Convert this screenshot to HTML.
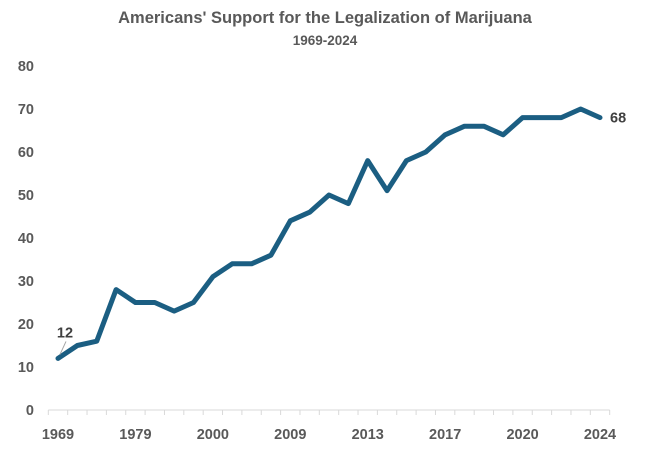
<!DOCTYPE html>
<html><head><meta charset="utf-8"><style>
body{margin:0;background:#fff;}
svg{display:block;font-family:"Liberation Sans",sans-serif;}
</style></head><body>
<svg id="chart" width="650" height="457">
<text x="325" y="23" text-anchor="middle" font-size="16.5" font-weight="bold" fill="#595959">Americans' Support for the Legalization of Marijuana</text>
<text x="325" y="45" text-anchor="middle" font-size="13.5" font-weight="bold" fill="#595959">1969-2024</text>
<g id="yaxis"></g>
<g id="xaxis"></g>
<g id="plot"></g>
</svg>
<script>
const categories=["1969","1972","1973","1977","1979","1980","1985","1995","2000","2001","2003","2005","2009","2010","2011","2012","2013","2014","2015","2016","2017","2018","2018b","2019","2020","2021","2022","2023","2024"];
const tickLabels=["1969","1979","2000","2009","2013","2017","2020","2024"];
const supportValues=[12,15,16,28,25,25,23,25,31,34,34,36,44,46,50,48,58,51,58,60,64,66,66,64,68,68,68,70,68];
const yTicks=[0,10,20,30,40,50,60,70,80];
const NS="http://www.w3.org/2000/svg";
const x0=58,x1=600,yb=410,yt=66;
function xs(i){return x0+(x1-x0)*i/(categories.length-1);}
function ys(v){return yb-(yb-yt)*v/80;}
function mk(tag,attrs,parent){const e=document.createElementNS(NS,tag);for(const k in attrs)e.setAttribute(k,attrs[k]);parent.appendChild(e);return e;}
const ya=document.getElementById('yaxis'),xa=document.getElementById('xaxis'),pl=document.getElementById('plot');
yTicks.forEach(v=>{const t=mk('text',{x:34,y:ys(v)+5,'text-anchor':'end','font-size':14.5,'font-weight':'bold',fill:'#595959'},ya);t.textContent=v;

});
const step=(x1-x0)/(categories.length-1);
const ax=mk('line',{x1:x0-step/2,x2:x1+step/2,y1:yb,y2:yb,stroke:'#d9d9d9','stroke-width':1},xa);


for(let i=0;i<=categories.length;i++){const x=x0-step/2+i*step;const tk=mk('line',{x1:x,x2:x,y1:yb,y2:yb+5,stroke:'#d9d9d9','stroke-width':1},xa);

}
tickLabels.forEach((lab,j)=>{const i=j*4;const t=mk('text',{x:xs(i),y:439,'text-anchor':'middle','font-size':14.5,'font-weight':'bold',fill:'#595959'},xa);t.textContent=lab;

});
const d=supportValues.map((v,i)=>(i?'L':'M')+xs(i)+','+ys(v)).join(' ');
const p=mk('path',{d:d,fill:'none',stroke:'#1b5e82','stroke-width':5,'stroke-linejoin':'round','stroke-linecap':'round'},pl);


const n=supportValues.length-1;
const l1=mk('line',{x1:xs(0)+2,y1:ys(supportValues[0])-4,x2:xs(0)+8,y2:ys(supportValues[0])-17,stroke:'#a6a6a6','stroke-width':1},pl);


const t1=mk('text',{x:xs(0)+7,y:ys(supportValues[0])-21,'text-anchor':'middle','font-size':14.5,'font-weight':'bold',fill:'#404040'},pl);t1.textContent=supportValues[0];


const t2=mk('text',{x:xs(n)+10,y:ys(supportValues[n])+5,'font-size':14.5,'font-weight':'bold',fill:'#404040'},pl);t2.textContent=supportValues[n];


</script>
</body></html>
